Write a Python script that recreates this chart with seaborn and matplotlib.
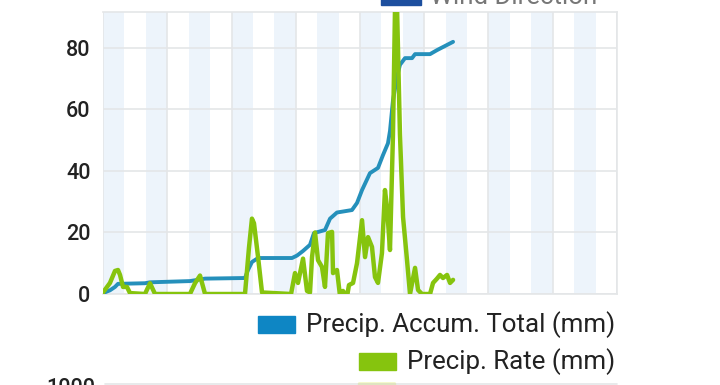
import numpy as np
import pandas as pd
import matplotlib
matplotlib.use("Agg")
import matplotlib.pyplot as plt
from matplotlib.patches import Rectangle
import seaborn as sns

# values (time in hours from start of window)
accum_hours = [0.0, 0.65, 1.12, 1.40, 3.92, 4.39, 8.12, 9.53, 13.26, 13.54, 13.91, 14.48,
               17.65, 18.12, 18.68, 19.33, 19.70, 20.73, 21.20, 21.85, 23.25, 23.72, 24.19,
               24.93, 25.68, 26.15, 26.61, 26.80, 27.08, 27.46, 27.73, 28.20, 28.86, 29.14,
               30.54, 31.19, 32.69]
accum_total = [0.3, 1.2, 2.3, 3.3, 3.5, 3.8, 4.2, 5.0, 5.2, 7.8, 10.4, 11.7,
               11.7, 12.5, 14.0, 16.0, 19.8, 20.8, 24.5, 26.5, 27.3, 29.6, 33.8,
               39.3, 41.0, 45.2, 49.0, 53.0, 63.0, 70.6, 74.5, 76.7, 76.7, 78.0,
               78.0, 79.3, 82.0]

rate_hours = [0.0, 0.65, 1.12, 1.40, 1.59, 1.87, 2.24, 2.52, 3.92, 4.39, 4.86, 8.12,
              8.59, 9.06, 9.53, 13.26, 13.63, 13.91, 14.10, 14.48, 14.85, 17.56, 17.93,
              18.21, 18.68, 19.05, 19.33, 19.52, 19.80, 20.08, 20.45, 20.73, 21.01, 21.39,
              21.48, 21.85, 22.13, 22.41, 22.79, 22.97, 23.35, 23.72, 24.19, 24.47, 24.75,
              25.12, 25.40, 25.68, 26.05, 26.33, 26.52, 26.80, 27.08, 27.27, 27.46, 27.73,
              28.02, 28.39, 28.67, 29.14, 29.42, 29.79, 30.54, 30.82, 31.19, 31.47, 31.75,
              32.13, 32.41, 32.69]
rate = [0.5, 3.6, 7.5, 7.8, 6.2, 2.3, 2.3, 0.3, 0.0, 3.5, 0.0, 0.0,
        3.5, 6.0, 0.0, 0.0, 15.0, 24.5, 23.0, 12.0, 0.5, 0.0, 6.8,
        3.6, 11.5, 1.0, 0.5, 12.0, 20.0, 11.0, 8.8, 2.3, 19.8, 20.2,
        6.8, 7.8, -0.5, 1.0, -0.8, 2.9, 3.6, 10.0, 24.0, 12.0, 18.5,
        15.3, 5.5, 3.6, 13.3, 33.8, 28.3, 14.3, 52.0, 93.0, 93.0, 52.0,
        25.0, 11.0, 0.0, 8.5, 1.3, 0.0, 0.0, 3.6, 5.0, 6.2, 5.2,
        6.2, 3.6, 4.6]

y_ticks = [0, 20, 40, 60, 80]
x_grid = [0, 6, 12, 18, 24, 30, 36, 42, 48]

blue = "#2590bb"
blue_box = "#0e86c4"
green = "#86c40e"
band_color = "#edf4fb"
grid_color = "#e4e6e8"

sns.set_theme(style="white")
plt.rcParams["font.family"] = ["Roboto", "DejaVu Sans"]

fig = plt.figure(figsize=(7.2, 3.85), dpi=100)
ax = fig.add_axes([103 / 720, 1 - 294 / 385, 514 / 720, 282 / 385])

# alternating light-blue bands
for i in range(12):
    ax.axvspan(4 * i, 4 * i + 2, color=band_color, lw=0, zorder=0)

accum_df = pd.DataFrame({"hour": accum_hours, "value": accum_total})
rate_df = pd.DataFrame({"hour": rate_hours, "value": rate})
sns.lineplot(data=accum_df, x="hour", y="value", ax=ax, color=blue, lw=2.8, zorder=3)
sns.lineplot(data=rate_df, x="hour", y="value", ax=ax, color=green, lw=3.2, zorder=4)

ax.set_xlim(0, 48)
ax.set_ylim(0, 91.7)
ax.set_xticks(x_grid)
ax.set_xticklabels([])
ax.set_yticks(y_ticks)
ax.set_yticklabels([str(t) for t in y_ticks], fontsize=15.5, color="#222222",
                   fontweight="medium")
ax.tick_params(axis="both", length=0)
ax.tick_params(axis="y", pad=9)
ax.set_xlabel("")
ax.set_ylabel("")
ax.grid(True, color=grid_color, lw=1.2, zorder=1)
ax.set_axisbelow(True)
for side in ["top", "right", "bottom"]:
    ax.spines[side].set_color(grid_color)
    ax.spines[side].set_linewidth(1.2)
ax.spines["left"].set_visible(False)

# legend rows below the plot, right aligned
fig.canvas.draw()
renderer = fig.canvas.get_renderer()
rows = [("Precip. Accum. Total (mm)", blue_box, 325), ("Precip. Rate (mm)", green, 362)]
for label, col, yc in rows:
    t = fig.text(615 / 720, 1 - yc / 385, label, ha="right", va="center",
                 fontsize=18.6, color="#222222")
    bb = t.get_window_extent(renderer)
    x0 = bb.x0 - 11 - 37
    fig.patches.append(Rectangle((x0 / 720, 1 - (yc + 8) / 385), 37 / 720, 17 / 385,
                                 transform=fig.transFigure, color=col, figure=fig))

# clipped pieces of neighbouring charts
fig.patches.append(Rectangle((381 / 720, 1 - 5 / 385), 40 / 720, 8 / 385,
                             transform=fig.transFigure, color="#1d4f9e", figure=fig))
fig.text(430 / 720, 1 - 4 / 385, "Wind Direction", ha="left", va="baseline",
         fontsize=18.6, color="#777777")
fig.text(95 / 720, 1 - 378 / 385, "1000", ha="right", va="top", fontsize=15.5,
         color="#222222", fontweight="medium")
fig.add_artist(plt.Line2D([105 / 720, 617 / 720], [1 - 383.5 / 385] * 2,
                          transform=fig.transFigure, color=grid_color, lw=1.2))
fig.patches.append(Rectangle((358 / 720, 0), 37 / 720, 2 / 385,
                             transform=fig.transFigure, color="#c8e000", figure=fig))

fig.savefig("out.png", dpi=100)
